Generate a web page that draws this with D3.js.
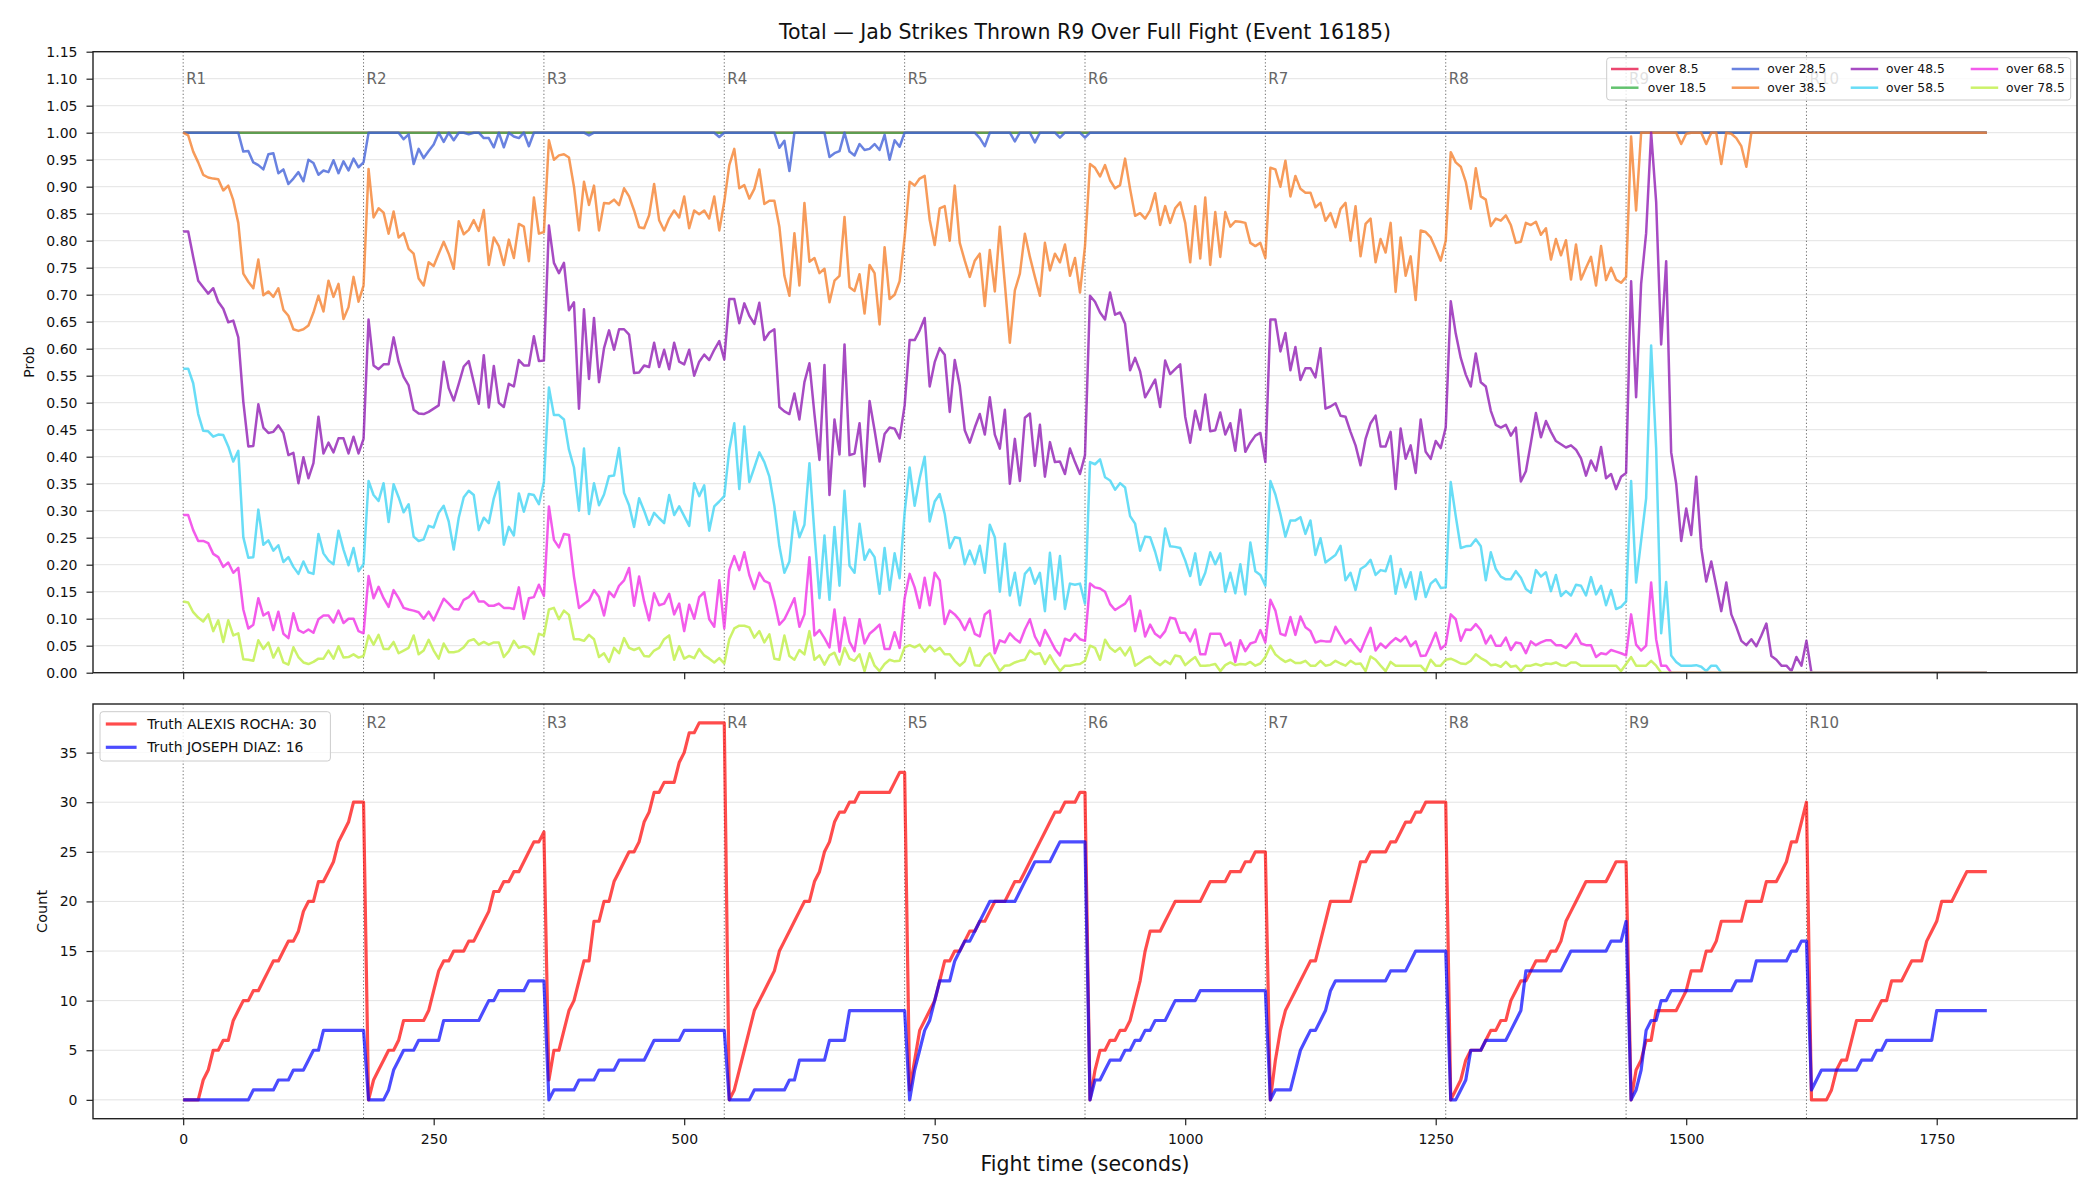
<!DOCTYPE html>
<html><head><meta charset="utf-8">
<script src="https://cdn.jsdelivr.net/npm/d3@7"></script>
<style>
body{margin:0;background:#fff}
svg{display:block}
text{font-family:"DejaVu Sans",sans-serif}
</style>
</head><body>
<svg id="chart" width="2100" height="1200"></svg>
<script>
// ---------------- DATA ----------------
const titleText = "Total \u2014 Jab Strikes Thrown R9 Over Full Fight (Event 16185)";
const stepSeconds = 5;
const roundStarts = [0,180,360,540,720,900,1080,1260,1440,1620];
const roundLabels = ["R1","R2","R3","R4","R5","R6","R7","R8","R9","R10"];
const xTickValues = [0,250,500,750,1000,1250,1500,1750];
const probTickValues = [0,0.05,0.10,0.15,0.20,0.25,0.30,0.35,0.40,0.45,0.50,0.55,0.60,0.65,0.70,0.75,0.80,0.85,0.90,0.95,1.00,1.05,1.10,1.15];
const countTickValues = [0,5,10,15,20,25,30,35];
const lineNames = ["over 8.5","over 18.5","over 28.5","over 38.5","over 48.5","over 58.5","over 68.5","over 78.5"];
const lineColors = ["#e6194b","#3cb44b","#4363d8","#f58231","#911eb4","#42d4f4","#f032e6","#bfef45"];
const truthNames = ["Truth ALEXIS ROCHA: 30","Truth JOSEPH DIAZ: 16"];
const truthColors = ["#ff0000","#0000ff"];

const over8 = [
1,1,1,1,1,1,1,1,1,1,1,1,1,1,1,1,1,1,1,1,1,1,1,1,1,1,1,1,1,1,1,1,1,1,1,1,1,
1,1,1,1,1,1,1,1,1,1,1,1,1,1,1,1,1,1,1,1,1,1,1,1,1,1,1,1,1,1,1,1,1,1,1,1,
1,1,1,1,1,1,1,1,1,1,1,1,1,1,1,1,1,1,1,1,1,1,1,1,1,1,1,1,1,1,1,1,1,1,1,1,
1,1,1,1,1,1,1,1,1,1,1,1,1,1,1,1,1,1,1,1,1,1,1,1,1,1,1,1,1,1,1,1,1,1,1,1,
1,1,1,1,1,1,1,1,1,1,1,1,1,1,1,1,1,1,1,1,1,1,1,1,1,1,1,1,1,1,1,1,1,1,1,1,
1,1,1,1,1,1,1,1,1,1,1,1,1,1,1,1,1,1,1,1,1,1,1,1,1,1,1,1,1,1,1,1,1,1,1,1,
1,1,1,1,1,1,1,1,1,1,1,1,1,1,1,1,1,1,1,1,1,1,1,1,1,1,1,1,1,1,1,1,1,1,1,1,
1,1,1,1,1,1,1,1,1,1,1,1,1,1,1,1,1,1,1,1,1,1,1,1,1,1,1,1,1,1,1,1,1,1,1,1,
1,1,1,1,1,1,1,1,1,1,1,1,1,1,1,1,1,1,1,1,1,1,1,1,1,1,1,1,1,1,1,1,1,1,1,1,
1,1,1,1,1,1,1,1,1,1,1,1,1,1,1,1,1,1,1,1,1,1,1,1,1,1,1,1,1,1,1,1,1,1,1,1];
const over18 = [
1,1,1,1,1,1,1,1,1,1,1,1,1,1,1,1,1,1,1,1,1,1,1,1,1,1,1,1,1,1,1,1,1,1,1,1,1,
1,1,1,1,1,1,1,1,1,1,1,1,1,1,1,1,1,1,1,1,1,1,1,1,1,1,1,1,1,1,1,1,1,1,1,1,
1,1,1,1,1,1,1,1,1,1,1,1,1,1,1,1,1,1,1,1,1,1,1,1,1,1,1,1,1,1,1,1,1,1,1,1,
1,1,1,1,1,1,1,1,1,1,1,1,1,1,1,1,1,1,1,1,1,1,1,1,1,1,1,1,1,1,1,1,1,1,1,1,
1,1,1,1,1,1,1,1,1,1,1,1,1,1,1,1,1,1,1,1,1,1,1,1,1,1,1,1,1,1,1,1,1,1,1,1,
1,1,1,1,1,1,1,1,1,1,1,1,1,1,1,1,1,1,1,1,1,1,1,1,1,1,1,1,1,1,1,1,1,1,1,1,
1,1,1,1,1,1,1,1,1,1,1,1,1,1,1,1,1,1,1,1,1,1,1,1,1,1,1,1,1,1,1,1,1,1,1,1,
1,1,1,1,1,1,1,1,1,1,1,1,1,1,1,1,1,1,1,1,1,1,1,1,1,1,1,1,1,1,1,1,1,1,1,1,
1,1,1,1,1,1,1,1,1,1,1,1,1,1,1,1,1,1,1,1,1,1,1,1,1,1,1,1,1,1,1,1,1,1,1,1,
1,1,1,1,1,1,1,1,1,1,1,1,1,1,1,1,1,1,1,1,1,1,1,1,1,1,1,1,1,1,1,1,1,1,1,1];
const over28 = [
1,1,1,1,1,1,1,1,1,1,1,1,.965,.966,.945,.94,.932,.96,.962,.925,.932,.905,.915,.927,.91,.95,.944,.922,.93,.927,.949,.925,.947,.93,.952,.936,.945,
1,1,1,1,1,1,1,.988,.997,.942,.97,.953,.966,.978,1,.983,1,.986,1,1,.997,1,1,.99,.99,.973,1,.973,1,.993,.99,1,.975,1,1,1,
1,1,1,1,1,1,1,1,.995,1,1,1,1,1,1,1,1,1,1,1,1,1,1,1,1,1,1,1,1,1,1,1,1,1,.992,1,
1,1,1,1,1,1,1,1,1,1,.972,.985,.929,1,1,1,1,1,1,1,.955,.962,.966,1,.965,.958,.979,.968,.97,.979,.968,.996,.95,.986,.974,1,
1,1,1,1,1,1,1,1,1,1,1,1,1,1,.99,.975,1,1,1,1,1,.984,1,1,1,.982,1,1,1,1,.991,1,1,1,1,.991,
1,1,1,1,1,1,1,1,1,1,1,1,1,1,1,1,1,1,1,1,1,1,1,1,1,1,1,1,1,1,1,1,1,1,1,1,
1,1,1,1,1,1,1,1,1,1,1,1,1,1,1,1,1,1,1,1,1,1,1,1,1,1,1,1,1,1,1,1,1,1,1,1,
1,1,1,1,1,1,1,1,1,1,1,1,1,1,1,1,1,1,1,1,1,1,1,1,1,1,1,1,1,1,1,1,1,1,1,1,
1,1,1,1,1,1,1,1,1,1,1,1,1,1,1,1,1,1,1,1,1,1,1,1,1,1,1,1,1,1,1,1,1,1,1,1,
1,1,1,1,1,1,1,1,1,1,1,1,1,1,1,1,1,1,1,1,1,1,1,1,1,1,1,1,1,1,1,1,1,1,1,1];
const over38 = [
1,.995,.965,.945,.922,.917,.915,.914,.893,.902,.875,.833,.739,.724,.712,.765,.699,.706,.696,.712,.672,.661,.636,.633,.636,.643,.667,.698,.669,.726,.696,.72,.655,.677,.733,.687,.717,
.933,.843,.86,.852,.813,.854,.806,.814,.785,.776,.73,.717,.76,.753,.776,.798,.776,.748,.836,.812,.82,.838,.818,.857,.755,.806,.79,.755,.802,.768,.831,.826,.762,.88,.813,.816,
.986,.95,.958,.96,.954,.9,.819,.909,.866,.902,.819,.87,.869,.876,.866,.897,.882,.856,.825,.823,.847,.905,.838,.819,.841,.856,.843,.882,.823,.856,.849,.856,.841,.882,.819,.872,
.94,.97,.897,.903,.878,.896,.932,.868,.874,.874,.826,.735,.698,.814,.717,.87,.761,.768,.74,.748,.686,.726,.735,.844,.714,.707,.738,.665,.755,.74,.645,.788,.692,.7,.725,.806,
.909,.902,.915,.92,.839,.792,.86,.864,.8,.902,.796,.763,.733,.763,.776,.679,.783,.706,.826,.72,.611,.708,.739,.813,.77,.733,.698,.796,.745,.776,.76,.793,.735,.768,.704,.79,
.942,.935,.919,.94,.912,.897,.903,.952,.896,.846,.851,.841,.856,.888,.829,.864,.833,.86,.871,.833,.76,.864,.767,.88,.755,.853,.77,.853,.826,.836,.835,.833,.796,.79,.796,.768,
.935,.932,.9,.948,.882,.92,.896,.889,.889,.862,.87,.837,.851,.825,.859,.87,.8,.864,.771,.831,.841,.76,.803,.778,.833,.705,.806,.735,.771,.69,.819,.816,.806,.785,.763,.8,
.964,.945,.937,.909,.859,.934,.882,.876,.827,.841,.837,.847,.829,.796,.798,.833,.829,.835,.811,.823,.765,.803,.773,.801,.728,.793,.728,.75,.77,.717,.79,.727,.75,.728,.722,.733,
.993,.856,1,1,1,1,1,1,1,1,.979,.998,1,1,1,.979,1,1,.942,1,.998,.99,.975,.937,1,1,1,1,1,1,1,1,1,1,1,1,
1,1,1,1,1,1,1,1,1,1,1,1,1,1,1,1,1,1,1,1,1,1,1,1,1,1,1,1,1,1,1,1,1,1,1,1];
const over48 = [
.817,.817,.77,.726,.714,.702,.712,.687,.674,.649,.652,.621,.502,.419,.42,.497,.454,.444,.446,.458,.444,.403,.407,.351,.399,.36,.388,.474,.406,.426,.408,.434,.434,.406,.437,.406,.433,
.654,.569,.562,.571,.571,.621,.576,.548,.532,.487,.48,.479,.483,.489,.495,.576,.527,.504,.535,.567,.577,.538,.498,.588,.491,.568,.5,.492,.535,.53,.579,.569,.569,.623,.577,.578,
.828,.759,.74,.759,.671,.686,.489,.673,.544,.657,.538,.601,.634,.598,.636,.636,.626,.555,.556,.569,.566,.611,.566,.598,.562,.611,.576,.571,.598,.55,.576,.589,.579,.598,.614,.58,
.692,.692,.647,.684,.661,.646,.685,.616,.63,.636,.492,.484,.479,.517,.469,.538,.573,.479,.394,.57,.329,.469,.404,.608,.403,.406,.462,.345,.503,.449,.391,.442,.454,.452,.434,.495,
.616,.616,.634,.657,.53,.575,.601,.589,.483,.579,.532,.449,.426,.454,.479,.441,.51,.441,.415,.487,.35,.433,.355,.472,.48,.383,.459,.363,.427,.39,.391,.368,.415,.39,.368,.403,
.698,.687,.667,.654,.704,.663,.667,.646,.56,.583,.558,.51,.526,.543,.492,.578,.553,.562,.571,.474,.426,.485,.45,.515,.447,.449,.482,.441,.462,.411,.487,.409,.426,.439,.444,.39,
.654,.654,.595,.629,.56,.603,.542,.564,.564,.547,.601,.489,.493,.499,.476,.474,.446,.421,.384,.433,.462,.476,.419,.419,.446,.34,.452,.396,.421,.37,.469,.409,.396,.429,.416,.454,
.688,.628,.583,.552,.53,.591,.538,.53,.485,.459,.454,.459,.439,.454,.354,.373,.426,.481,.436,.466,.446,.429,.423,.417,.421,.413,.397,.365,.393,.374,.418,.36,.368,.34,.363,.37,
.725,.51,.72,.814,1,.872,.608,.762,.408,.35,.244,.304,.255,.363,.231,.169,.206,.16,.114,.167,.108,.085,.059,.051,.062,.049,.069,.091,.031,.024,.013,.013,.003,.029,.013,.059,
0,0,0,0,0,0,0,0,0,0,0,0,0,0,0,0,0,0,0,0,0,0,0,0,0,0,0,0,0,0,0,0,0,0,0,0];
const over58 = [
.563,.563,.536,.479,.448,.447,.437,.441,.44,.419,.391,.411,.251,.213,.214,.302,.237,.245,.226,.236,.205,.214,.196,.183,.206,.186,.183,.257,.221,.208,.201,.263,.228,.199,.231,.188,.201,
.355,.329,.318,.351,.279,.349,.325,.297,.312,.252,.244,.247,.272,.269,.296,.309,.28,.228,.287,.325,.337,.329,.264,.287,.277,.323,.353,.237,.27,.254,.332,.298,.331,.329,.312,.353,
.528,.477,.477,.469,.413,.38,.3,.415,.294,.351,.31,.33,.364,.365,.416,.333,.31,.27,.323,.3,.274,.296,.286,.277,.329,.292,.308,.29,.272,.351,.327,.347,.263,.308,.317,.327,
.413,.462,.34,.456,.353,.38,.408,.39,.363,.309,.234,.185,.206,.298,.251,.274,.388,.257,.138,.254,.135,.27,.161,.337,.198,.185,.276,.209,.228,.214,.146,.231,.153,.221,.175,.297,
.38,.309,.36,.4,.28,.317,.331,.294,.231,.251,.249,.201,.226,.201,.235,.185,.274,.251,.15,.239,.143,.185,.125,.183,.194,.165,.185,.114,.222,.136,.216,.118,.165,.163,.165,.128,
.39,.386,.395,.362,.356,.339,.351,.343,.29,.276,.226,.252,.251,.224,.19,.267,.234,.233,.231,.208,.179,.221,.163,.185,.223,.201,.221,.15,.185,.147,.201,.145,.241,.188,.181,.161,
.355,.33,.294,.252,.282,.282,.288,.257,.282,.218,.249,.204,.211,.218,.235,.171,.185,.153,.192,.198,.209,.181,.19,.188,.216,.146,.192,.158,.186,.136,.186,.14,.165,.173,.157,.158,
.353,.29,.231,.234,.235,.247,.234,.171,.223,.192,.178,.173,.173,.188,.176,.155,.148,.19,.178,.186,.151,.181,.142,.151,.143,.163,.161,.143,.177,.145,.161,.125,.153,.118,.122,.132,
.355,.167,.244,.323,.606,.416,.073,.168,.032,.02,.013,.013,.013,.014,.011,.003,.013,.013,0,0,0,0,0,0,0,0,0,0,0,0,0,0,0,0,0,0,
0,0,0,0,0,0,0,0,0,0,0,0,0,0,0,0,0,0,0,0,0,0,0,0,0,0,0,0,0,0,0,0,0,0,0,0];
const over68 = [
.292,.292,.264,.244,.244,.24,.22,.214,.196,.204,.185,.194,.117,.082,.089,.138,.106,.112,.079,.113,.072,.064,.11,.079,.074,.08,.074,.099,.106,.106,.093,.115,.092,.1,.1,.077,.073,
.179,.138,.159,.138,.122,.153,.138,.12,.117,.115,.112,.1,.113,.097,.117,.137,.128,.118,.117,.135,.14,.15,.132,.132,.124,.124,.128,.12,.12,.118,.158,.1,.138,.14,.163,.142,
.308,.246,.232,.257,.255,.178,.12,.127,.134,.153,.14,.106,.15,.14,.161,.171,.194,.124,.178,.132,.097,.147,.125,.128,.146,.108,.128,.077,.126,.1,.14,.149,.099,.085,.171,.082,
.19,.216,.19,.223,.181,.155,.185,.17,.166,.132,.089,.099,.118,.138,.085,.108,.214,.069,.079,.064,.047,.117,.039,.102,.057,.04,.099,.054,.072,.08,.089,.044,.044,.075,.046,.138,
.183,.158,.12,.176,.125,.185,.171,.09,.115,.108,.097,.079,.1,.072,.067,.108,.115,.036,.06,.056,.073,.063,.056,.08,.099,.067,.05,.079,.062,.044,.032,.063,.059,.072,.062,.059,
.165,.158,.156,.15,.127,.116,.122,.128,.142,.077,.115,.067,.089,.072,.065,.077,.102,.1,.074,.074,.058,.08,.034,.034,.072,.072,.072,.05,.056,.02,.06,.04,.054,.057,.079,.056,
.135,.115,.072,.069,.103,.07,.104,.084,.077,.056,.059,.058,.058,.085,.069,.054,.062,.05,.039,.062,.083,.041,.054,.046,.056,.064,.058,.067,.049,.058,.031,.032,.052,.074,.044,.052,
.108,.099,.059,.08,.079,.09,.079,.054,.069,.05,.05,.065,.042,.056,.054,.036,.058,.051,.056,.06,.06,.051,.051,.046,.056,.072,.054,.051,.051,.029,.036,.034,.042,.039,.036,.032,
.108,.052,.041,.05,.167,.062,.013,.013,0,0,0,0,0,0,0,0,0,0,0,0,0,0,0,0,0,0,0,0,0,0,0,0,0,0,0,0,
0,0,0,0,0,0,0,0,0,0,0,0,0,0,0,0,0,0,0,0,0,0,0,0,0,0,0,0,0,0,0,0,0,0,0,0];
const over78 = [
.132,.13,.112,.102,.095,.108,.077,.097,.057,.097,.069,.073,.025,.024,.022,.06,.044,.056,.028,.046,.019,.015,.047,.029,.019,.016,.02,.026,.026,.041,.026,.049,.028,.029,.034,.028,.031,
.069,.052,.07,.044,.044,.057,.036,.041,.046,.069,.034,.041,.061,.041,.026,.054,.038,.038,.04,.047,.059,.062,.052,.057,.052,.056,.056,.029,.04,.059,.046,.049,.046,.034,.072,.069,
.117,.12,.099,.115,.107,.062,.062,.059,.07,.062,.029,.036,.02,.046,.036,.064,.046,.042,.046,.031,.03,.041,.046,.062,.069,.024,.049,.026,.031,.027,.044,.032,.026,.019,.027,.017,
.062,.082,.087,.087,.084,.065,.077,.056,.071,.026,.024,.069,.031,.024,.042,.034,.077,.024,.032,.015,.032,.037,.015,.046,.026,.022,.034,.003,.036,.013,.003,.016,.024,.021,.022,.047,
.051,.047,.052,.039,.05,.04,.046,.034,.034,.022,.013,.021,.046,.014,.013,.029,.036,.019,.003,.013,.014,.019,.022,.024,.041,.034,.036,.016,.032,.016,.003,.013,.013,.015,.016,.022,
.05,.046,.024,.061,.046,.039,.046,.032,.047,.013,.019,.026,.03,.02,.014,.022,.016,.032,.03,.014,.022,.029,.013,.013,.014,.016,.003,.014,.019,.014,.016,.015,.02,.013,.017,.029,
.05,.034,.026,.02,.024,.018,.018,.022,.013,.013,.022,.013,.015,.022,.017,.013,.022,.016,.017,.003,.03,.024,.013,.003,.02,.013,.013,.013,.013,.013,.013,.003,.024,.013,.013,.024,
.026,.022,.017,.016,.022,.034,.027,.022,.014,.015,.011,.02,.011,.013,.003,.013,.013,.016,.013,.017,.016,.019,.014,.013,.019,.019,.013,.013,.013,.013,.013,.013,.013,.013,.003,.016,
.029,.013,.013,.013,.022,.013,0,0,0,0,0,0,0,0,0,0,0,0,0,0,0,0,0,0,0,0,0,0,0,0,0,0,0,0,0,0,
0,0,0,0,0,0,0,0,0,0,0,0,0,0,0,0,0,0,0,0,0,0,0,0,0,0,0,0,0,0,0,0,0,0,0,0];

const truthRocha = [
0,0,0,0,2,3,5,5,6,6,8,9,10,10,11,11,12,13,14,14,15,16,16,17,19,20,20,22,22,23,24,26,27,28,30,30,30,
0,2,3,4,5,5,6,8,8,8,8,8,9,11,13,14,14,15,15,15,16,16,17,18,19,21,21,22,22,23,23,24,25,26,26,27,
2,5,5,7,9,10,12,14,14,18,18,20,20,22,23,24,25,25,26,28,29,31,31,32,32,32,34,35,37,37,38,38,38,38,38,38,
0,1,3,5,7,9,10,11,12,13,15,16,17,18,19,20,20,22,23,25,26,28,29,29,30,30,31,31,31,31,31,31,31,32,33,33,
1,4,7,8,9,10,12,14,14,15,15,16,17,17,18,18,19,20,20,20,21,22,22,23,24,25,26,27,28,29,29,30,30,30,31,31,
0,3,5,5,6,6,7,7,8,10,12,15,17,17,17,18,19,20,20,20,20,20,20,21,22,22,22,22,23,23,23,24,24,25,25,25,
0,4,7,9,10,11,12,13,14,14,16,18,20,20,20,20,20,22,24,24,25,25,25,25,26,26,27,28,28,29,29,30,30,30,30,30,
0,1,2,4,5,5,5,6,7,7,8,8,10,11,12,12,13,14,14,14,15,15,16,18,19,20,21,22,22,22,22,22,23,24,24,24,
0,3,4,6,6,9,9,9,9,9,10,11,13,13,13,15,15,16,18,18,18,18,18,20,20,20,20,22,22,22,23,24,26,26,28,30,
0,0,0,0,1,3,4,4,6,8,8,8,8,9,10,10,12,12,12,13,14,14,14,16,17,18,20,20,20,21,22,23,23,23,23,23];
const truthDiaz = [
0,0,0,0,0,0,0,0,0,0,0,0,0,0,1,1,1,1,1,2,2,2,3,3,3,4,5,5,7,7,7,7,7,7,7,7,7,
0,0,0,0,1,3,4,5,5,5,6,6,6,6,6,8,8,8,8,8,8,8,8,9,10,10,11,11,11,11,11,11,12,12,12,12,
0,1,1,1,1,1,2,2,2,2,3,3,3,3,4,4,4,4,4,4,5,6,6,6,6,6,6,7,7,7,7,7,7,7,7,7,
0,0,0,0,0,1,1,1,1,1,1,1,2,2,4,4,4,4,4,4,6,6,6,6,9,9,9,9,9,9,9,9,9,9,9,9,
0,3,5,7,8,10,12,12,12,14,15,16,16,17,18,19,20,20,20,20,20,20,21,22,23,24,24,24,24,25,26,26,26,26,26,26,
0,2,2,3,4,4,4,5,5,6,6,7,7,8,8,8,9,10,10,10,10,10,11,11,11,11,11,11,11,11,11,11,11,11,11,11,
0,1,1,1,1,3,5,6,7,7,8,9,11,12,12,12,12,12,12,12,12,12,12,12,13,13,13,13,14,15,15,15,15,15,15,15,
0,0,1,2,5,5,5,6,6,6,6,6,7,8,9,13,13,13,13,13,13,13,13,14,15,15,15,15,15,15,15,15,16,16,16,18,
0,1,3,7,8,8,10,10,11,11,11,11,11,11,11,11,11,11,11,11,11,12,12,12,12,14,14,14,14,14,14,14,15,15,16,16,
1,2,3,3,3,3,3,3,3,3,4,4,4,5,5,6,6,6,6,6,6,6,6,6,6,9,9,9,9,9,9,9,9,9,9,9];

const probSeries = [over8, over18, over28, over38, over48, over58, over68, over78];
const truthSeries = [truthRocha, truthDiaz];

// ---------------- LAYOUT ----------------
const W = 2100, H = 1200;
const L = 93, R = 2077;
const topT = 51.7, topB = 672.7;
const botT = 704, botB = 1118.7;
const FONT = '"DejaVu Sans", sans-serif';

const svg = d3.select("#chart");
svg.append("rect").attr("width", W).attr("height", H).attr("fill", "#fff");

const x = d3.scaleLinear().domain([-90, 1890]).range([L, R]);
const yP = d3.scaleLinear().domain([0, 1.15]).range([topB, topT]);
const yC = d3.scaleLinear().domain([-1.9, 39.9]).range([botB, botT]);

const defs = svg.append("defs");
defs.append("clipPath").attr("id", "clipTop").append("rect")
  .attr("x", L).attr("y", topT).attr("width", R - L).attr("height", topB - topT);
defs.append("clipPath").attr("id", "clipBot").append("rect")
  .attr("x", L).attr("y", botT).attr("width", R - L).attr("height", botB - botT);

function panel(yScale, yTicks, yFmt, top, bottom, showXLabels) {
  const g = svg.append("g");
  g.append("g").selectAll("line").data(yTicks).join("line")
    .attr("x1", L).attr("x2", R)
    .attr("y1", d => yScale(d)).attr("y2", d => yScale(d))
    .attr("stroke", "#e3e3e3").attr("stroke-width", 1);
  const ya = g.append("g").attr("transform", `translate(${L},0)`)
    .call(d3.axisLeft(yScale).tickValues(yTicks).tickFormat(yFmt).tickSizeInner(6.5).tickSizeOuter(0).tickPadding(9));
  ya.select(".domain").remove();
  ya.selectAll("line").attr("stroke", "#222").attr("stroke-width", 1.2);
  ya.selectAll("text").attr("font-size", 14).attr("font-family", FONT).attr("fill", "#111");
  const xa = g.append("g").attr("transform", `translate(0,${bottom})`)
    .call(d3.axisBottom(x).tickValues(xTickValues).tickFormat(showXLabels ? d3.format("d") : () => "").tickSizeInner(6.5).tickSizeOuter(0).tickPadding(9));
  xa.select(".domain").remove();
  xa.selectAll("line").attr("stroke", "#222").attr("stroke-width", 1.2);
  xa.selectAll("text").attr("font-size", 14).attr("font-family", FONT).attr("fill", "#111");
  g.append("g").selectAll("line").data(roundStarts).join("line")
    .attr("x1", d => x(d)).attr("x2", d => x(d))
    .attr("y1", top).attr("y2", bottom)
    .attr("stroke", "#666").attr("stroke-width", 1).attr("stroke-dasharray", "1.3,2.2").attr("opacity", 0.9);
  return g;
}

// ---------- TOP PANEL ----------
panel(yP, probTickValues, d3.format(".2f"), topT, topB, false);

svg.append("g").selectAll("text").data(roundStarts).join("text")
  .attr("x", d => x(d) + 3).attr("y", yP(1.10))
  .attr("dominant-baseline", "central")
  .attr("font-size", 15).attr("font-family", FONT).attr("fill", "#666")
  .text((d, i) => roundLabels[i]);

const probLine = d3.line()
  .x((d, i) => x(i * stepSeconds))
  .y(d => yP(d));
svg.append("g").attr("clip-path", "url(#clipTop)")
  .selectAll("path").data(probSeries).join("path")
  .attr("d", d => probLine(d))
  .attr("fill", "none")
  .attr("stroke", (d, i) => lineColors[i])
  .attr("stroke-opacity", 0.8)
  .attr("stroke-width", 2.5)
  .attr("stroke-linejoin", "round");

svg.append("rect").attr("x", L).attr("y", topT).attr("width", R - L).attr("height", topB - topT)
  .attr("fill", "none").attr("stroke", "#222").attr("stroke-width", 1.4);

svg.append("text").attr("transform", `translate(28.5,${(topT + topB) / 2}) rotate(-90)`)
  .attr("text-anchor", "middle").attr("dominant-baseline", "central")
  .attr("font-size", 14).attr("font-family", FONT).attr("fill", "#111").text("Prob");

const lg = svg.append("g");
lg.append("rect").attr("x", 1606.7).attr("y", 57.7).attr("width", 464).attr("height", 42.3)
  .attr("rx", 3).attr("fill", "#fff").attr("fill-opacity", 0.8).attr("stroke", "#cccccc").attr("stroke-width", 1);
const colLineX = [1611, 1731.7, 1850.7, 1970.7];
const colTextX = [1647.7, 1767.3, 1886, 2006];
const rowY = [69, 87.7];
lineNames.forEach((name, i) => {
  const c = Math.floor(i / 2), r = i % 2;
  lg.append("line").attr("x1", colLineX[c]).attr("x2", colLineX[c] + 27.5)
    .attr("y1", rowY[r]).attr("y2", rowY[r])
    .attr("stroke", lineColors[i]).attr("stroke-opacity", 0.8).attr("stroke-width", 2.5);
  lg.append("text").attr("x", colTextX[c]).attr("y", rowY[r]).attr("dominant-baseline", "central")
    .attr("font-size", 12.3).attr("font-family", FONT).attr("fill", "#111").text(name);
});

// ---------- BOTTOM PANEL ----------
panel(yC, countTickValues, d3.format("d"), botT, botB, true);

// R1 label sits hidden under the legend in the reference, so labels start at R2
svg.append("g").selectAll("text").data(roundStarts.slice(1)).join("text")
  .attr("x", d => x(d) + 3).attr("y", yC(38))
  .attr("dominant-baseline", "central")
  .attr("font-size", 15).attr("font-family", FONT).attr("fill", "#666")
  .text((d, i) => roundLabels[i + 1]);

const countLine = d3.line()
  .x((d, i) => x(i * stepSeconds))
  .y(d => yC(d));
svg.append("g").attr("clip-path", "url(#clipBot)")
  .selectAll("path").data(truthSeries).join("path")
  .attr("d", d => countLine(d))
  .attr("fill", "none")
  .attr("stroke", (d, i) => truthColors[i])
  .attr("stroke-opacity", 0.7)
  .attr("stroke-width", 3.2)
  .attr("stroke-linejoin", "round");

svg.append("rect").attr("x", L).attr("y", botT).attr("width", R - L).attr("height", botB - botT)
  .attr("fill", "none").attr("stroke", "#222").attr("stroke-width", 1.4);

svg.append("text").attr("transform", `translate(41.5,${(botT + botB) / 2}) rotate(-90)`)
  .attr("text-anchor", "middle").attr("dominant-baseline", "central")
  .attr("font-size", 14.5).attr("font-family", FONT).attr("fill", "#111").text("Count");

const lg2 = svg.append("g");
lg2.append("rect").attr("x", 100).attr("y", 711.7).attr("width", 230.4).attr("height", 49.3)
  .attr("rx", 3).attr("fill", "#fff").attr("fill-opacity", 0.8).attr("stroke", "#cccccc").attr("stroke-width", 1);
const row2Y = [724, 747.3];
truthNames.forEach((name, i) => {
  lg2.append("line").attr("x1", 105.8).attr("x2", 136.6).attr("y1", row2Y[i]).attr("y2", row2Y[i])
    .attr("stroke", truthColors[i]).attr("stroke-opacity", 0.7).attr("stroke-width", 3.2);
  lg2.append("text").attr("x", 147.3).attr("y", row2Y[i]).attr("dominant-baseline", "central")
    .attr("font-size", 13.9).attr("font-family", FONT).attr("fill", "#111").text(name);
});

svg.append("text").attr("x", (L + R) / 2).attr("y", 39).attr("text-anchor", "middle")
  .attr("font-size", 20.5).attr("font-family", FONT).attr("fill", "#111").text(titleText);
svg.append("text").attr("x", (L + R) / 2).attr("y", 1171).attr("text-anchor", "middle")
  .attr("font-size", 20.5).attr("font-family", FONT).attr("fill", "#111").text("Fight time (seconds)");
</script>
</body></html>
